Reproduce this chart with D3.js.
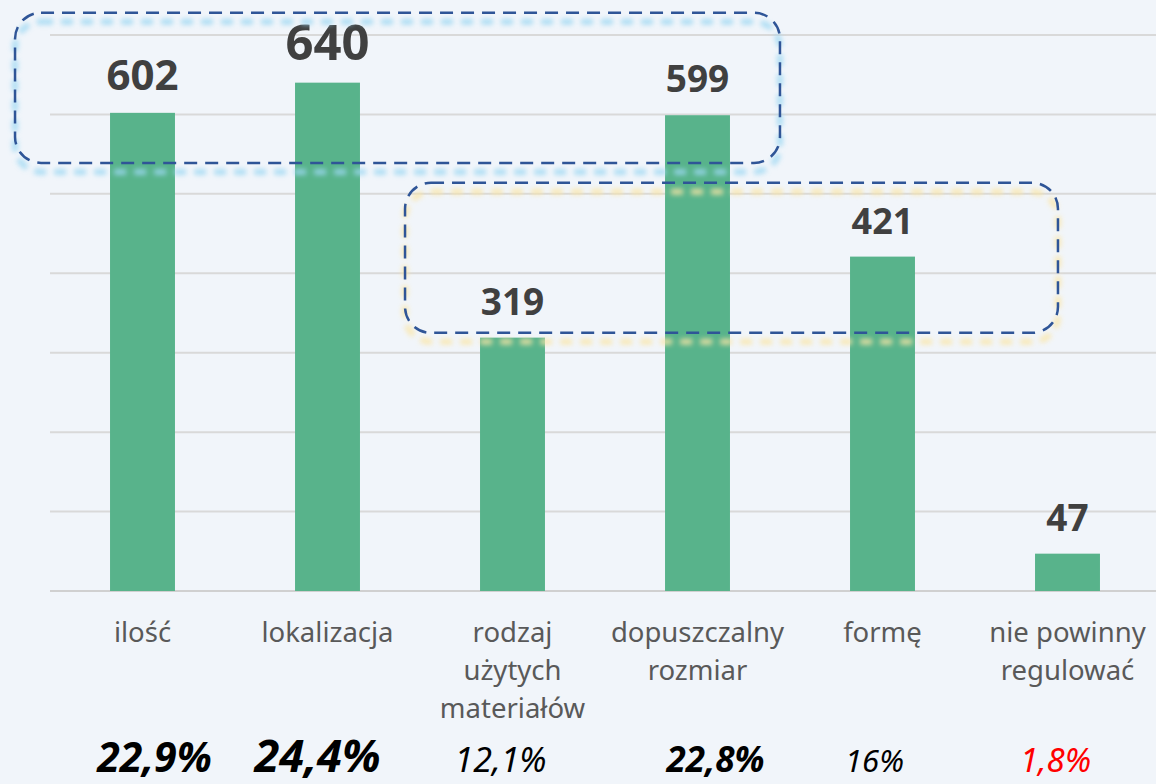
<!DOCTYPE html>
<html>
<head>
<meta charset="utf-8">
<script src="https://cdn.jsdelivr.net/npm/d3@7"></script>
<style>
  body { margin: 0; background: #f1f5fa; }
  svg { display: block; font-family: "Noto Sans", "Open Sans", sans-serif; }
</style>
</head>
<body>
<svg id="chart" width="1156" height="784"></svg>
<script>
// data
const categories = ['ilość', 'lokalizacja', 'rodzaj użytych materiałów', 'dopuszczalny rozmiar', 'formę', 'nie powinny regulować'];
const catLines = [['ilość'], ['lokalizacja'], ['rodzaj', 'użytych', 'materiałów'], ['dopuszczalny', 'rozmiar'], ['formę'], ['nie powinny', 'regulować']];
const values = [602, 640, 319, 599, 421, 47];
const percents = ['22,9%', '24,4%', '12,1%', '22,8%', '16%', '1,8%'];
const gridTicks = [0, 100, 200, 300, 400, 500, 600, 700];

// label styling (kept apart from the data)
const valueSize = [42, 49, 37, 37, 36, 37];
const pctSize = [41, 45, 34, 35, 31, 33];
const pctWeight = ['bold', 'bold', 'normal', 'bold', 'normal', 'normal'];
const pctColor = ['#000', '#000', '#000', '#000', '#000', '#ff0000'];
const pctShift = [12, -10, -12, 18, -8, -12];

const svg = d3.select('#chart');
const width = 1156, height = 784;

svg.append('rect')
    .attr('width', width)
    .attr('height', height)
    .attr('fill', '#f1f5fa');

const x = d3.scaleBand()
    .domain(categories)
    .range([50, 1160])
    .paddingInner(0.649)
    .paddingOuter(0.3245);

const y = d3.scaleLinear()
    .domain([0, 700])
    .range([591, 35]);

// gridlines
svg.append('g')
    .selectAll('line')
    .data(gridTicks)
    .join('line')
    .attr('x1', 50)
    .attr('x2', width)
    .attr('y1', d => y(d))
    .attr('y2', d => y(d))
    .attr('stroke', d => d === 0 ? '#d0d0d0' : '#d9d9d9')
    .attr('stroke-width', 2);

// bars
svg.append('g')
    .selectAll('rect')
    .data(values)
    .join('rect')
    .attr('x', (d, i) => x(categories[i]))
    .attr('y', d => y(d))
    .attr('width', x.bandwidth())
    .attr('height', d => y(0) - y(d))
    .attr('fill', '#58b38b');

// value labels
svg.append('g')
    .selectAll('text')
    .data(values)
    .join('text')
    .attr('x', (d, i) => x(categories[i]) + x.bandwidth() / 2)
    .attr('y', d => y(d) - 23)
    .attr('text-anchor', 'middle')
    .attr('font-weight', 'bold')
    .attr('font-size', (d, i) => valueSize[i])
    .attr('fill', '#404040')
    .text(d => d);

// category labels
const cats = svg.append('g')
    .selectAll('text')
    .data(catLines)
    .join('text')
    .attr('text-anchor', 'middle')
    .attr('font-size', 27.5)
    .attr('fill', '#595959');

cats.selectAll('tspan')
    .data((d, i) => d.map(t => ({ t: t, i: i })))
    .join('tspan')
    .attr('x', d => x(categories[d.i]) + x.bandwidth() / 2)
    .attr('y', (d, j) => 642 + j * 38)
    .text(d => d.t);

// percentages
svg.append('g')
    .selectAll('text')
    .data(percents)
    .join('text')
    .attr('x', (d, i) => x(categories[i]) + x.bandwidth() / 2 + pctShift[i])
    .attr('y', 772)
    .attr('text-anchor', 'middle')
    .attr('font-style', 'italic')
    .attr('font-weight', (d, i) => pctWeight[i])
    .attr('font-size', (d, i) => pctSize[i])
    .attr('fill', (d, i) => pctColor[i])
    .text(d => d);

///////////////// annotation boxes
const defs = svg.append('defs');
defs.append('filter')
    .attr('id', 'soft')
    .attr('x', '-10%').attr('y', '-30%')
    .attr('width', '120%').attr('height', '160%')
    .append('feGaussianBlur')
    .attr('stdDeviation', 2.5);

const boxes = [
    { x0: x(categories[0]) - 95, x1: x(categories[3]) + x.bandwidth() + 50, top: 728, bottom: 539, glow: '#9dd8f3' },
    { x0: x(categories[2]) - 75, x1: x(categories[4]) + x.bandwidth() + 143, top: 514, bottom: 325, glow: '#fbe6a6' }
];

boxes.forEach(b => {
    svg.append('rect')
        .attr('x', b.x0)
        .attr('y', y(b.top) + 9)
        .attr('width', b.x1 - b.x0)
        .attr('height', y(b.bottom) - y(b.top))
        .attr('rx', 26)
        .attr('fill', 'none')
        .attr('stroke', b.glow)
        .attr('stroke-width', 6)
        .attr('stroke-dasharray', '12,8')
        .attr('opacity', 0.8)
        .attr('filter', 'url(#soft)');

    svg.append('rect')
        .attr('x', b.x0)
        .attr('y', y(b.top))
        .attr('width', b.x1 - b.x0)
        .attr('height', y(b.bottom) - y(b.top))
        .attr('rx', 26)
        .attr('fill', 'none')
        .attr('stroke', '#2f5597')
        .attr('stroke-width', 2.5)
        .attr('stroke-dasharray', '13,8');
});
</script>
</body>
</html>
